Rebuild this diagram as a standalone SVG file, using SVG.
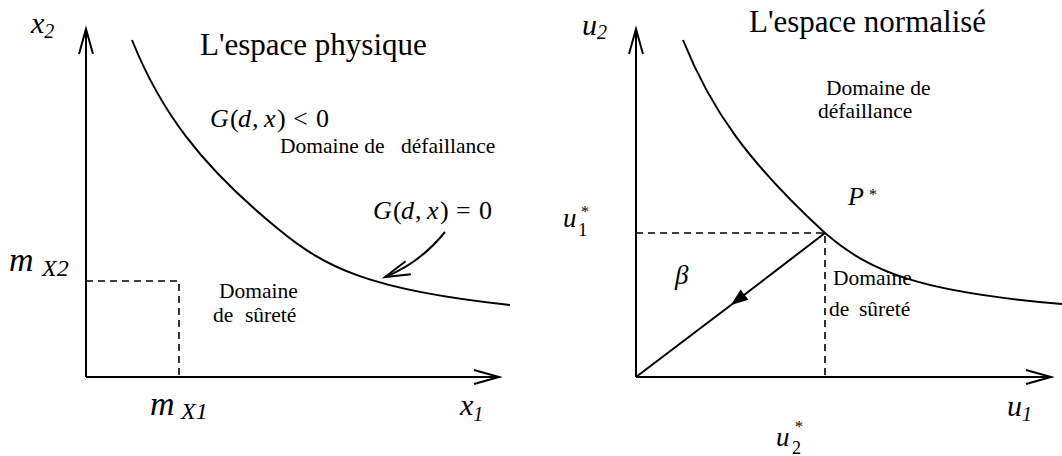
<svg xmlns="http://www.w3.org/2000/svg" width="1062" height="456" viewBox="0 0 1062 456" font-family="'Liberation Serif', 'DejaVu Serif', serif">
<style>
text, tspan{font-family:'Liberation Serif','DejaVu Serif',serif;fill:#000;white-space:pre}
.it{font-style:italic}
.up{font-style:normal}
.ax{stroke:#000;stroke-width:2;fill:none}
.cv{stroke:#000;stroke-width:2;fill:none}
.ds{stroke:#000;stroke-width:1.6;fill:none;stroke-dasharray:7,5}
.title{font-size:31px}
.lbl{font-size:21.5px}
.math{font-size:26px}
</style>
<defs>
<marker id="open" markerUnits="userSpaceOnUse" viewBox="-28 -10 30 20" markerWidth="30" markerHeight="20" refX="0" refY="0" orient="auto" overflow="visible">
<path d="M-25,-7 L0,0 L-25,7" fill="none" stroke="#000" stroke-width="2"/>
</marker>
<marker id="filled" markerUnits="userSpaceOnUse" viewBox="-20 -10 22 20" markerWidth="22" markerHeight="20" refX="0" refY="0" orient="auto" overflow="visible">
<path d="M0,0 L-17,-6.5 L-17,6.5 Z" fill="#000"/>
</marker>
</defs>

<g id="panel-physique">
<g id="axes-left">
<path class="ax" d="M86,377 L86,29" marker-end="url(#open)"/>
<path class="ax" d="M86,377 L499,377" marker-end="url(#open)"/>
</g>
<path id="limit-left" class="cv" d="M132,40 C160,110 200,165 277,228 C325,268 370,290 510,305"/>
<path id="means" class="ds" d="M86,281 L179,281 L179,377"/>
<path id="pointer" class="cv" d="M445,232 Q420,263 385,277" marker-end="url(#open)"/>
<text class="title" x="200" y="55">L'espace physique</text>
<text class="math" y="127"><tspan class="it" x="210">G</tspan><tspan x="230">(</tspan><tspan class="it" x="238">d</tspan><tspan x="252">,</tspan><tspan class="it" x="264">x</tspan><tspan x="277">)</tspan><tspan x="293">&lt;</tspan><tspan x="316">0</tspan></text>
<text class="lbl" y="153"><tspan x="280">Domaine de</tspan><tspan x="401">défaillance</tspan></text>
<text class="math" y="219"><tspan class="it" x="373">G</tspan><tspan x="393">(</tspan><tspan class="it" x="401">d</tspan><tspan x="415">,</tspan><tspan class="it" x="427">x</tspan><tspan x="440">)</tspan><tspan x="456">=</tspan><tspan x="479">0</tspan></text>
<text class="lbl" x="219" y="298">Domaine</text>
<text class="lbl" y="322"><tspan x="213">de</tspan><tspan x="245">sûreté</tspan></text>
<text class="it" x="31" y="33" font-size="30px">x<tspan font-size="20px" y="38">2</tspan></text>
<text class="it" x="9" y="271" font-size="34px">m<tspan font-size="24px" x="42" y="276">X2</tspan></text>
<text class="it" x="150" y="415" font-size="34px">m<tspan font-size="24px" x="181" y="419">X1</tspan></text>
<text class="it" x="460" y="415" font-size="30px">x<tspan font-size="20px" y="421">1</tspan></text>
</g>

<g id="panel-normalise">
<g id="axes-right">
<path class="ax" d="M636,377 L636,29" marker-end="url(#open)"/>
<path class="ax" d="M636,377 L1051,377" marker-end="url(#open)"/>
</g>
<path id="limit-right" class="cv" d="M683,40 C711,110 748,162 825,233 C870,272 920,292 1062,304"/>
<path id="design-point" class="ds" d="M636,233 L825,233 L825,377"/>
<path id="beta" class="cv" d="M825,233 L731,305 L636,377" marker-mid="url(#filled)"/>
<text class="title" x="749" y="32">L'espace normalisé</text>
<text class="lbl" x="826" y="95">Domaine de</text>
<text class="lbl" x="818" y="118">défaillance</text>
<text class="lbl" x="833" y="285">Domaine</text>
<text class="lbl" y="316"><tspan x="829">de</tspan><tspan x="859">sûreté</tspan></text>
<text class="it" x="582" y="35" font-size="30px">u<tspan font-size="20px" y="39">2</tspan></text>
<text class="it" x="1007" y="416" font-size="30px">u<tspan font-size="20px" y="421">1</tspan></text>
<text class="it" x="675" y="284" font-size="27px">β</text>
<text class="it" x="848" y="205" font-size="26px">P<tspan class="up" font-size="16px" x="869" y="200">*</tspan></text>
<text class="it" x="563" y="227" font-size="27px">u<tspan class="up" font-size="16px" x="581" y="217">*</tspan><tspan class="up" font-size="19px" x="578" y="236">1</tspan></text>
<text class="it" x="776" y="446" font-size="27px">u<tspan class="up" font-size="16px" x="795" y="432">*</tspan><tspan class="up" font-size="18px" x="792" y="454">2</tspan></text>
</g>
</svg>
